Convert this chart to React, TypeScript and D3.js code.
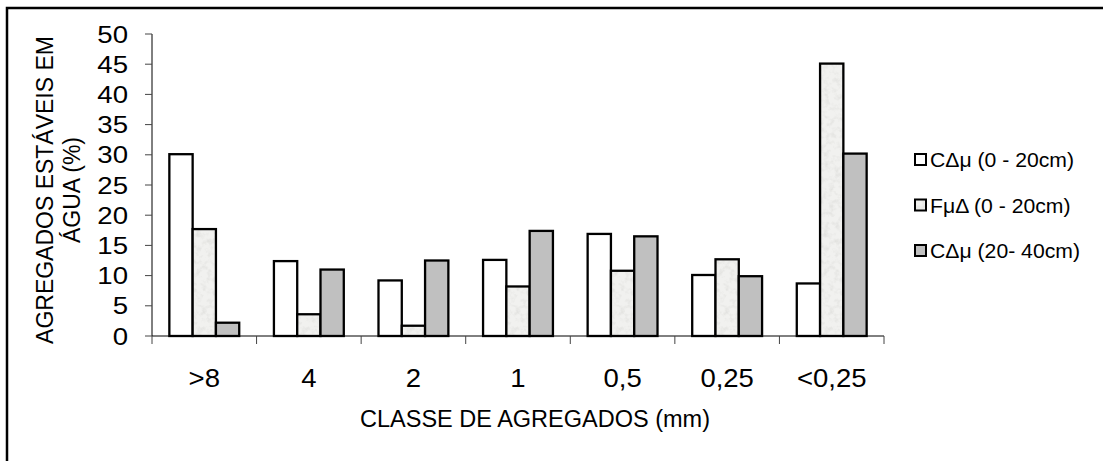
import React from "react";
import * as d3 from "d3";

const categories = [">8", "4", "2", "1", "0,5", "0,25", "<0,25"];
const seriesNames = ["CΔμ (0 - 20cm)", "FμΔ (0 - 20cm)", "CΔμ (20- 40cm)"];
const serieA = [30.1, 12.4, 9.2, 12.6, 16.9, 10.1, 8.7];
const serieB = [17.7, 3.6, 1.7, 8.2, 10.8, 12.7, 45.1];
const serieC = [2.2, 11.0, 12.5, 17.4, 16.5, 9.9, 30.2];
const yTicks = [0, 5, 10, 15, 20, 25, 30, 35, 40, 45, 50];

const W = 1103;
const H = 461;
const FONT = "'Liberation Sans', Arial, sans-serif";

export default function App() {
  const series = [serieA, serieB, serieC];
  const x0 = d3.scaleBand<string>().domain(categories).range([152, 884]).paddingInner(0).paddingOuter(0);
  const x1 = d3.scaleBand<number>().domain([0, 1, 2]).range([0, x0.bandwidth()]).paddingInner(0).paddingOuter(0.745);
  const y = d3.scaleLinear().domain([0, 50]).range([336, 34]);
  const fills = ["#ffffff", "#f1f1ef", "#c0c0c0"];
  const boundaries = categories.map((c) => x0(c) as number).concat([884]);

  return (
    <svg width={W} height={H} style={{ position: "absolute", left: 0, top: 0, background: "#fff" }} fontFamily={FONT}>
      <defs>
        <filter id="speck" x="0" y="0" width="1" height="1" filterUnits="objectBoundingBox">
          <feTurbulence type="fractalNoise" baseFrequency="0.18" numOctaves="3" seed="7" result="n" />
          <feColorMatrix
            in="n"
            type="matrix"
            values="0 0 0 0 0.7  0 0 0 0 0.7  0 0 0 0 0.68  1.6 0 0 0 -0.72"
          />
        </filter>
      </defs>
      {/* outer frame (left & top visible) */}
      <rect x={7} y={8} width={1300} height={800} fill="none" stroke="#000" strokeWidth={2.5} />

      {/* bars */}
      {categories.map((c, ci) => (
        <g key={c} transform={`translate(${x0(c)},0)`}>
          {series.map((s, si) => {
            const bx = x1(si) as number;
            const bw = x1.bandwidth();
            const top = y(s[ci]);
            const h = y(0) - top;
            return (
              <g key={si}>
                <rect x={bx} y={top} width={bw} height={h} fill={fills[si]} />
                {si === 1 && <rect x={bx} y={top} width={bw} height={h} fill="#fff" filter="url(#speck)" />}
                <rect x={bx} y={top} width={bw} height={h} fill="none" stroke="#000" strokeWidth={2.3} />
              </g>
            );
          })}
        </g>
      ))}

      {/* y axis */}
      <line x1={152} x2={152} y1={y(50)} y2={y(0)} stroke="#000" strokeWidth={1} />
      {yTicks.map((t) => (
        <g key={t}>
          <line x1={145} x2={152} y1={y(t)} y2={y(t)} stroke="#444" strokeWidth={1} />
          <text
            transform={`translate(128,${y(t) + 8.5}) scale(1.15,1)`}
            textAnchor="end"
            fontSize={24}
            fill="#000"
          >
            {t}
          </text>
        </g>
      ))}

      {/* x axis */}
      <line x1={152} x2={884} y1={y(0)} y2={y(0)} stroke="#000" strokeWidth={1} />
      {boundaries.map((b, i) => (
        <line key={i} x1={b} x2={b} y1={y(0)} y2={y(0) + 8} stroke="#444" strokeWidth={1} />
      ))}
      {categories.map((c) => (
        <text
          key={c}
          transform={`translate(${(x0(c) as number) + x0.bandwidth() / 2},387) scale(1.1,1)`}
          textAnchor="middle"
          fontSize={25}
          fill="#000"
        >
          {c}
        </text>
      ))}
      <text x={535} y={427} textAnchor="middle" fontSize={23.5} fill="#000">
        CLASSE DE AGREGADOS (mm)
      </text>

      {/* y title */}
      <text transform={`translate(53,190) scale(1.08,1) rotate(-90)`} textAnchor="middle" fontSize={23} fill="#000">
        AGREGADOS ESTÁVEIS EM
      </text>
      <text transform={`translate(80,190) scale(1.08,1) rotate(-90)`} textAnchor="middle" fontSize={23} fill="#000">
        ÁGUA (%)
      </text>

      {/* legend */}
      {seriesNames.map((n, i) => {
        const by = 167 + i * 45.5;
        return (
          <g key={n}>
            <rect x={915} y={by - 13} width={11} height={11} fill={fills[i]} />
            {i === 1 && <rect x={915} y={by - 13} width={11} height={11} fill="#fff" filter="url(#speck)" />}
            <rect x={915} y={by - 13} width={11} height={11} fill="none" stroke="#000" strokeWidth={2} />
            <text transform={`translate(930,${by}) scale(1.06,1)`} fontSize={20} fill="#000">
              {n}
            </text>
          </g>
        );
      })}
    </svg>
  );
}
